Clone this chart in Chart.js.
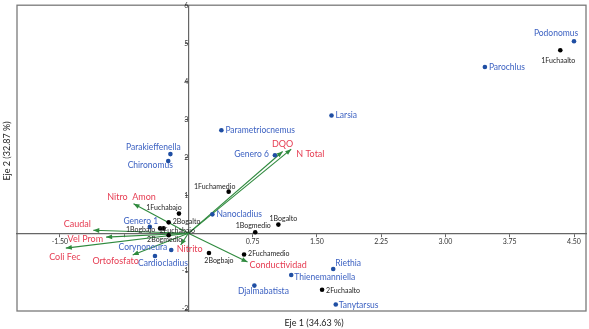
<!DOCTYPE html>
<html>
<head>
<meta charset="utf-8">
<script src="https://cdn.jsdelivr.net/npm/chart.js@4.4.1/dist/chart.umd.min.js"></script>
<style>
  html, body { margin: 0; padding: 0; background: #fff; }
  #wrap { width: 589px; height: 329px; }
</style>
</head>
<body>
<div id="wrap"><canvas id="chart" width="589" height="329"></canvas></div>
<script>
// Species scores (blue)
const speciesNames = ['Podonomus', 'Parochlus', 'Larsia', 'Parametriocnemus', 'Genero 6', 'Parakieffenella',
    'Chironomus', 'Nanocladius', 'Genero 1', 'Corynoneura', 'Cardiocladius', 'Riethia',
    'Thienemanniella', 'Tanytarsus', 'Djalmabatista'];
const speciesX = [4.50, 3.46, 1.67, 0.385, 1.01, -0.21, -0.235, 0.28, -0.45, -0.20, -0.39, 1.69, 1.20, 1.72, 0.77];
const speciesY = [5.07, 4.39, 3.11, 2.72, 2.06, 2.09, 1.91, 0.50, 0.17, -0.44, -0.60, -0.94, -1.10, -1.88, -1.38];

// Site scores (black)
const siteNames = ['1Fuchaalto', '1Fuchamedio', '1Fuchabajo', '2Bogalto', '1Bogbajo', '2Fuchabajo',
    '2Bogmedio', '1Bogmedio', '1Bogalto', '2Bogbajo', '2Fuchamedio', '2Fuchaalto'];
const siteX = [4.34, 0.47, -0.11, -0.23, -0.33, -0.29, -0.23, 0.78, 1.05, 0.24, 0.65, 1.56];
const siteY = [4.83, 1.10, 0.52, 0.29, 0.13, 0.13, -0.05, 0.03, 0.23, -0.52, -0.56, -1.49];

// Environmental variables (green arrows, red labels)
const varNames = ['DQO', 'N Total', 'Nitro  Amon', 'Caudal', 'Vel Prom', 'Coli Fec', 'Ortofosfato', 'Nitrito', 'Conductividad'];
const varX = [1.10, 1.20, -0.64, -1.11, -0.96, -1.43, -0.65, -0.09, 0.69];
const varY = [2.16, 2.22, 0.78, 0.08, -0.10, -0.39, -0.57, -0.31, -0.76];

// Axis ticks
const xTicks = [-1.50, -0.75, 0, 0.75, 1.50, 2.25, 3.00, 3.75, 4.50];
const yTicks = [-2, -1, 0, 1, 2, 3, 4, 5, 6];

// label placement: [dx, dy, align]
const speciesLabelPos = [[-18, -8, 'center'], [4, 0, 'left'], [4, 0, 'left'], [4, 0, 'left'], [-6, -1, 'right'],
    [-17, -7, 'center'], [-18, 4, 'center'], [4, 0, 'left'], [-9, -6, 'center'], [-4, -3, 'right'],
    [8, 7, 'center'], [2, -6, 'left'], [3, 2, 'left'], [3, 1, 'left'], [9, 6, 'center']];
const siteLabelPos = [[-2, 10, 'center'], [-14, -5, 'center'], [-15, -6, 'center'], [4, -1, 'left'],
    [-5, 1, 'right'], [-4, 2, 'left'], [-4, 5, 'center'], [-2, -6, 'center'], [5, -6, 'center'],
    [10, 8, 'center'], [4, -1, 'left'], [4, 1, 'left']];
const varLabelPos = [[0, -7, 'center'], [5, 5, 'left'], [-2, -7, 'center'], [-16, -6, 'center'],
    [-3, 2, 'right'], [-1, 9, 'center'], [-17, 6, 'center'], [-4, 4, 'left'], [2, 3, 'left']];

const BLUE_DOT = '#1f4ea3';
const BLUE_TXT = '#3d62c2';
const RED_TXT = '#e63c52';
const GREEN = '#2f8a3e';
const FONT = 'Lato, "Open Sans", sans-serif';

const toPts = (xs, ys) => xs.map((x, i) => ({ x: x, y: ys[i] }));

const datasets = [];
datasets.push({
    label: 'species', data: toPts(speciesX, speciesY), pointRadius: 2.3, pointHoverRadius: 2.3,
    backgroundColor: BLUE_DOT, borderColor: BLUE_DOT, borderWidth: 0, order: 0
});
datasets.push({
    label: 'sites', data: toPts(siteX, siteY), pointRadius: 2.3, pointHoverRadius: 2.3,
    backgroundColor: '#000', borderColor: '#000', borderWidth: 0, order: 1
});
varNames.forEach((name, i) => {
    datasets.push({
        label: name, type: 'line', data: [{ x: 0, y: 0 }, { x: varX[i], y: varY[i] }],
        borderColor: GREEN, borderWidth: 1.1, pointRadius: 0, fill: false, order: 2, isArrow: true
    });
});

const labelPlugin = {
    id: 'biplotLabels',
    beforeDraw(chart) {
        const { ctx, chartArea: a } = chart;
        ctx.save();
        ctx.fillStyle = '#fff';
        ctx.fillRect(0, 0, chart.width, chart.height);
        ctx.strokeStyle = '#7a7a7a';
        ctx.lineWidth = 1.3;
        ctx.strokeRect(a.left, a.top, a.right - a.left, a.bottom - a.top);
        ctx.restore();
    },
    afterDatasetsDraw(chart) {
        const ctx = chart.ctx;
        ctx.save();
        // arrow heads
        chart.data.datasets.forEach((ds, i) => {
            if (!ds.isArrow) return;
            const pts = chart.getDatasetMeta(i).data;
            const x0 = pts[0].x, y0 = pts[0].y, x1 = pts[1].x, y1 = pts[1].y;
            const ang = Math.atan2(y1 - y0, x1 - x0);
            const len = 6, half = 2.4;
            ctx.fillStyle = GREEN;
            ctx.beginPath();
            ctx.moveTo(x1, y1);
            ctx.lineTo(x1 - len * Math.cos(ang) + half * Math.sin(ang), y1 - len * Math.sin(ang) - half * Math.cos(ang));
            ctx.lineTo(x1 - len * Math.cos(ang) - half * Math.sin(ang), y1 - len * Math.sin(ang) + half * Math.cos(ang));
            ctx.closePath();
            ctx.fill();
        });

        function drawLabels(meta, names, pos, color, font) {
            ctx.fillStyle = color;
            ctx.font = font;
            ctx.textBaseline = 'middle';
            names.forEach((n, j) => {
                const el = meta.data[j];
                const p = pos[j];
                ctx.textAlign = p[2];
                ctx.fillText(n, el.x + p[0], el.y + p[1]);
            });
        }
        drawLabels(chart.getDatasetMeta(0), speciesNames, speciesLabelPos, BLUE_TXT, '8.5px ' + FONT);
        drawLabels(chart.getDatasetMeta(1), siteNames, siteLabelPos, '#222', '7px ' + FONT);
        varNames.forEach((n, j) => {
            const meta = chart.getDatasetMeta(2 + j);
            const el = meta.data[1];
            const p = varLabelPos[j];
            ctx.fillStyle = RED_TXT;
            ctx.font = '9px ' + FONT;
            ctx.textBaseline = 'middle';
            ctx.textAlign = p[2];
            ctx.fillText(n, el.x + p[0], el.y + p[1]);
        });

        // axis titles
        ctx.fillStyle = '#222';
        ctx.font = '9px ' + FONT;
        ctx.textAlign = 'center';
        ctx.textBaseline = 'middle';
        ctx.fillText('Eje 1 (34.63 %)', 314, 323);
        ctx.translate(7, 151);
        ctx.rotate(-Math.PI / 2);
        ctx.fillText('Eje 2 (32.87 %)', 0, 0);
        ctx.restore();
    }
};

new Chart(document.getElementById('chart'), {
    type: 'scatter',
    data: { datasets: datasets },
    options: {
        responsive: false,
        animation: false,
        events: [],
        layout: { padding: { left: 17, right: 3, top: 3, bottom: 18 } },
        plugins: { legend: { display: false }, tooltip: { enabled: false } },
        scales: {
            x: {
                type: 'linear', min: -2.0, max: 4.64, position: { y: 0 },
                afterBuildTicks: s => { s.ticks = xTicks.map(v => ({ value: v })); },
                ticks: {
                    autoSkip: false, maxRotation: 0, padding: 1, color: '#333',
                    font: { family: FONT, size: 7 },
                    callback: v => (v === 0 || v === -0.75) ? '' : v.toFixed(2)
                },
                grid: { drawOnChartArea: false, tickLength: 3, color: '#666' },
                border: { color: '#666', width: 1.2 }
            },
            y: {
                type: 'linear', min: -2.05, max: 6.02, position: { x: 0 },
                afterBuildTicks: s => { s.ticks = yTicks.map(v => ({ value: v })); },
                ticks: {
                    autoSkip: false, padding: 1, color: '#333',
                    font: { family: FONT, size: 7 },
                    callback: v => v === 0 ? '' : String(v)
                },
                grid: { drawOnChartArea: false, tickLength: 3, color: '#666' },
                border: { color: '#666', width: 1.2 }
            }
        }
    },
    plugins: [labelPlugin]
});
</script>
</body>
</html>
